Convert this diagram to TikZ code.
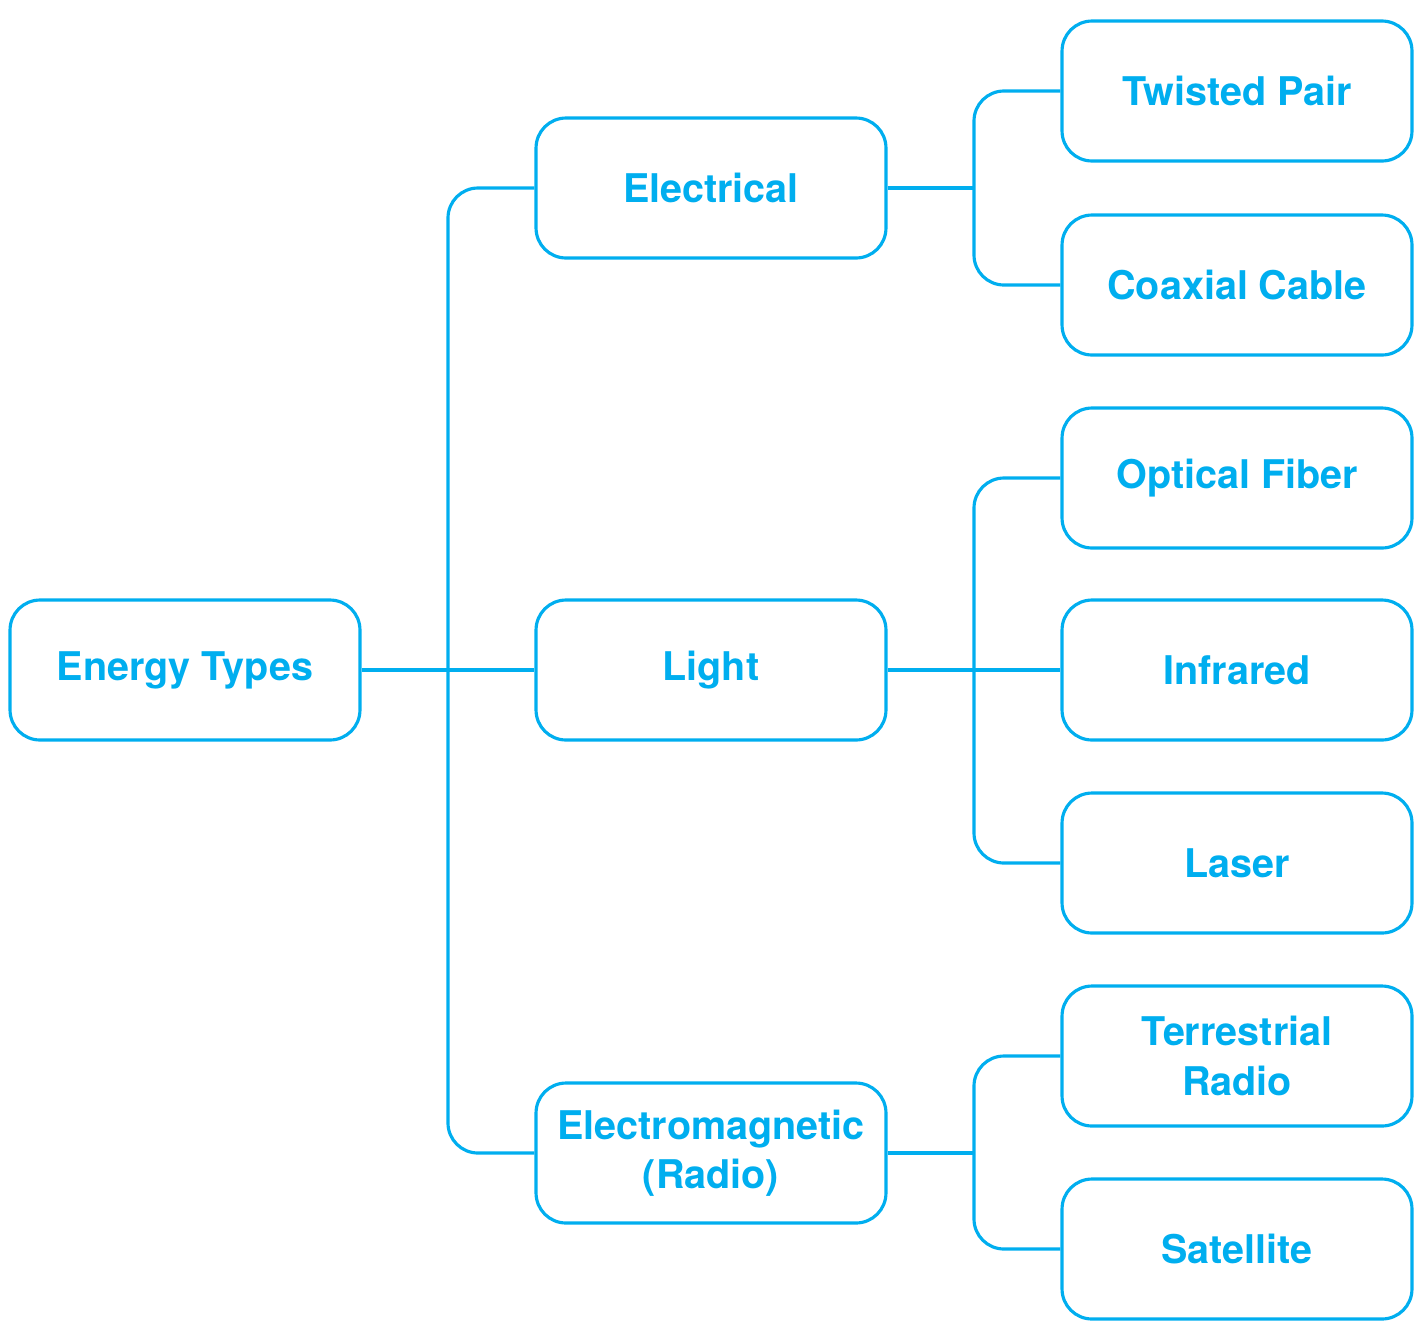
\documentclass[tikz,border=0pt]{standalone}
\usepackage{fontspec}
\setmainfont{TeX Gyre Heros}
\usepackage{tikz}
\usetikzlibrary{positioning}
\definecolor{energyblue}{HTML}{00AEEF}
\tikzset{
    typebox/.style={
        rectangle,
        rounded corners=0.6cm,
        draw=energyblue,
        line width=1.8pt,
        fill=white,
        text=energyblue,
        minimum width=7cm,
        minimum height=2.8cm,
        align=center,
        font={\fontsize{22.5pt}{28pt}\selectfont\bfseries}
    },
    link/.style={draw=energyblue, line width=1.8pt, rounded corners=0.6cm},
}

\begin{document}
\begin{tikzpicture}[x=0.02cm,y=-0.02cm]
\useasboundingbox (0,0) rectangle (1419,1343);

% level 0
\node[typebox] (root) at (185,670) {Energy Types};

% level 1
\node[typebox] (elec) at (711,188) {Electrical};
\node[typebox] (light) at (711,670) {Light};
\node[typebox] (radio) at (711,1153) {Electromagnetic\\(Radio)};

% level 2
\node[typebox] (tp) at (1237,91) {Twisted Pair};
\node[typebox] (cc) at (1237,285) {Coaxial Cable};
\node[typebox] (of) at (1237,478) {Optical Fiber};
\node[typebox] (ir) at (1237,670) {Infrared};
\node[typebox] (laser) at (1237,863) {Laser};
\node[typebox] (terr) at (1237,1056) {Terrestrial\\Radio};
\node[typebox] (sat) at (1237,1249) {Satellite};

% junctions
\coordinate (j1) at (448,670);
\coordinate (j2) at (974,188);
\coordinate (j3) at (974,670);
\coordinate (j4) at (974,1153);

% connectors
\draw[link] (root.east) -- (light.west);
\draw[link] (elec.west) -| (j1) |- (radio.west);
\draw[link] (elec.east) -- (j2);
\draw[link] (tp.west) -| (j2) |- (cc.west);
\draw[link] (light.east) -- (ir.west);
\draw[link] (of.west) -| (j3) |- (laser.west);
\draw[link] (radio.east) -- (j4);
\draw[link] (terr.west) -| (j4) |- (sat.west);
\end{tikzpicture}
\end{document}
